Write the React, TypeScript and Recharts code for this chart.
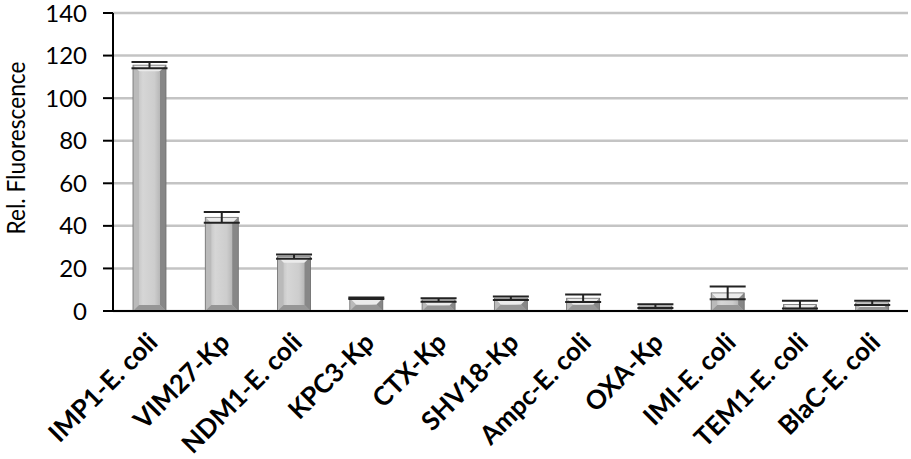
import React from "react";
import { Bar, BarChart, CartesianGrid, ErrorBar, XAxis, YAxis } from "recharts";

const strains = [
  "IMP1-E. coli",
  "VIM27-Kp",
  "NDM1-E. coli",
  "KPC3-Kp",
  "CTX-Kp",
  "SHV18-Kp",
  "Ampc-E. coli",
  "OXA-Kp",
  "IMI-E. coli",
  "TEM1-E. coli",
  "BlaC-E. coli",
];
const fluorescence = [115.5, 44, 25.5, 6, 5.2, 6, 6, 2.3, 8.5, 3, 3.8];
const errors = [1.5, 2.5, 1, 0.4, 0.8, 0.8, 1.8, 0.9, 3, 1.8, 1];
const yTicks = [0, 20, 40, 60, 80, 100, 120, 140];

const data = strains.map((name, i) => ({
  name,
  value: fluorescence[i],
  err: errors[i],
}));

const FONT = "Lato, 'Open Sans', sans-serif";

function BevelBar(props: any) {
  const { x, y, width, height } = props;
  if (!height || height <= 0) return null;
  const b = Math.min(6, height / 2, width / 2);
  const r = x + width;
  const btm = y + height;
  return (
    <g>
      <rect x={x} y={y} width={width} height={height} fill="url(#barBody)" />
      <polygon
        points={`${x},${y} ${r},${y} ${r - b},${y + b} ${x + b},${y + b}`}
        fill="#ebebeb"
      />
      <polygon
        points={`${x},${y} ${x + b},${y + b} ${x + b},${btm - b} ${x},${btm}`}
        fill="#bababa"
      />
      <polygon
        points={`${r},${y} ${r - b},${y + b} ${r - b},${btm - b} ${r},${btm}`}
        fill="#878787"
      />
      <polygon
        points={`${x},${btm} ${r},${btm} ${r - b},${btm - b} ${x + b},${btm - b}`}
        fill="#969696"
      />
      <rect
        x={x}
        y={y}
        width={width}
        height={height}
        fill="none"
        stroke="#6e6e6e"
        strokeWidth={0.8}
      />
    </g>
  );
}

function StrainTick(props: any) {
  const { x, y, payload } = props;
  return (
    <g transform={`translate(${x + 10},${y + 25})`}>
      <text
        textAnchor="end"
        transform="rotate(-45)"
        fontFamily={FONT}
        fontWeight="bold"
        fontSize={26}
        fill="#000"
      >
        {payload.value}
      </text>
    </g>
  );
}

export default function App() {
  return (
    <div style={{ position: "absolute", left: 0, top: 0, background: "#fff" }}>
      <BarChart
        width={911}
        height={459}
        data={data}
        margin={{ top: 13, right: 3, left: 0, bottom: 0 }}
      >
        <defs>
          <linearGradient id="barBody" x1="0" y1="0" x2="1" y2="0">
            <stop offset="0%" stopColor="#b5b5b5" />
            <stop offset="30%" stopColor="#d6d6d6" />
            <stop offset="65%" stopColor="#cdcdcd" />
            <stop offset="100%" stopColor="#a0a0a0" />
          </linearGradient>
        </defs>
        <CartesianGrid
          vertical={false}
          stroke="#c4c4c4"
          strokeWidth={2.5}
        />
        <XAxis
          dataKey="name"
          interval={0}
          height={148}
          tickLine={false}
          axisLine={{ stroke: "#000", strokeWidth: 2 }}
          tick={<StrainTick />}
        />
        <YAxis
          width={113}
          domain={[0, 140]}
          ticks={yTicks}
          tickSize={10}
          tickMargin={16}
          axisLine={{ stroke: "#000", strokeWidth: 2 }}
          tickLine={{ stroke: "#000", strokeWidth: 2 }}
          tick={{ fontSize: 24, fontFamily: FONT, fill: "#000" }}
          label={{
            content: () => (
              <text
                x={25}
                y={148}
                transform="rotate(-90 25 148)"
                textAnchor="middle"
                fontFamily={FONT}
                fontSize={25}
                textLength={173}
                lengthAdjust="spacingAndGlyphs"
                fill="#000"
              >
                Rel. Fluorescence
              </text>
            ),
          }}
        />
        <Bar
          dataKey="value"
          barSize={33}
          shape={<BevelBar />}
          isAnimationActive={false}
        >
          <ErrorBar
            dataKey="err"
            width={18}
            strokeWidth={2}
            stroke="#222"
          />
        </Bar>
      </BarChart>
    </div>
  );
}
